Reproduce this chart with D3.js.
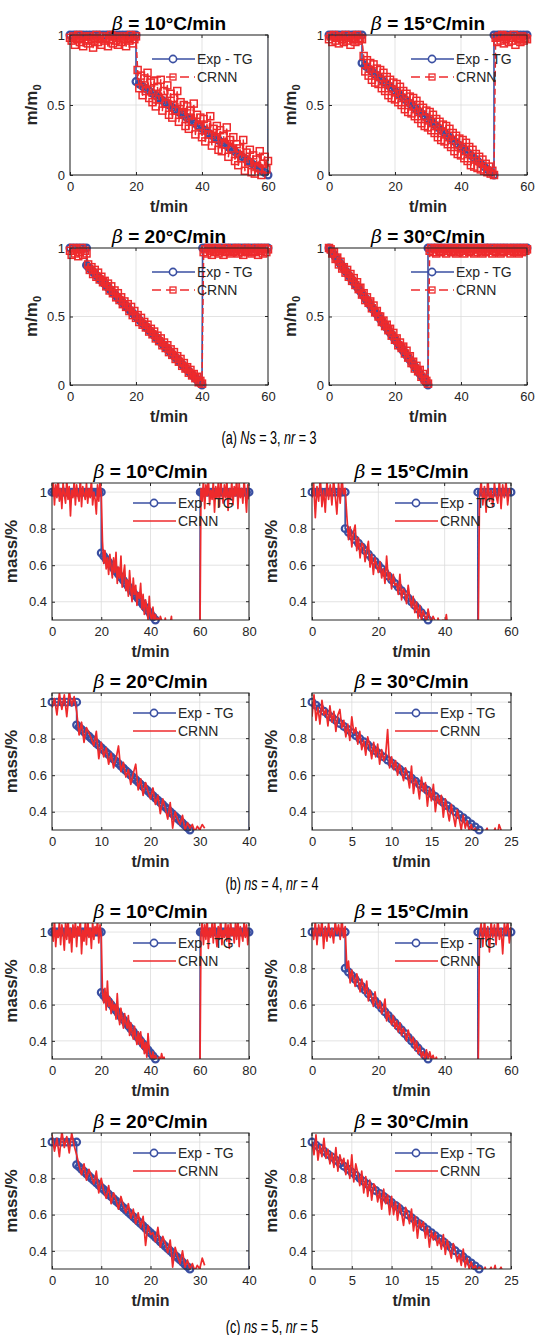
<!DOCTYPE html>
<html>
<head>
<meta charset="utf-8">
<script src="https://cdn.jsdelivr.net/npm/d3@7"></script>
<style>
  html, body { margin: 0; padding: 0; background: #fff; }
  svg { display: block; }
</style>
</head>
<body>
<svg id="chart" width="535" height="1335"></svg>
<script>
// ---------------------------------------------------------------
// Measured TG curves (t in min, normalised mass)
// ---------------------------------------------------------------
const heatingRates = [10, 15, 20, 30];

const expTG10 = [
  [0,1],[1,1],[2,1],[3,1],[4,1],[5,1],[6,1],[7,1],[8,1],[9,1],[10,1],
  [11,1],[12,1],[13,1],[14,1],[15,1],[16,1],[17,1],[18,1],[19,1],[20,1],
  [20,0.667],[21,0.650],[22,0.633],[23,0.617],[24,0.600],[25,0.583],[26,0.567],[27,0.550],[28,0.533],[29,0.517],[30,0.500],
  [31,0.483],[32,0.467],[33,0.450],[34,0.433],[35,0.417],[36,0.400],[37,0.383],[38,0.367],[39,0.350],[40,0.333],
  [41,0.317],[42,0.300],[43,0.283],[44,0.267],[45,0.250],[46,0.233],[47,0.217],[48,0.200],[49,0.183],[50,0.167],
  [51,0.150],[52,0.133],[53,0.117],[54,0.100],[55,0.083],[56,0.067],[57,0.050],[58,0.033],[59,0.017],[60,0],
  [60.2,1],[61,1],[62,1],[63,1],[64,1],[65,1],[66,1],[67,1],[68,1],[69,1],[70,1],
  [71,1],[72,1],[73,1],[74,1],[75,1],[76,1],[77,1],[78,1],[79,1],[80,1]
];

const expTG15 = [
  [0,1],[1,1],[2,1],[3,1],[4,1],[5,1],[6,1],[7,1],[8,1],[9,1],[10,1],
  [10,0.80],[11,0.78],[12,0.76],[13,0.74],[14,0.72],[15,0.70],[16,0.68],[17,0.66],[18,0.64],[19,0.62],[20,0.60],
  [21,0.58],[22,0.56],[23,0.54],[24,0.52],[25,0.50],[26,0.48],[27,0.46],[28,0.44],[29,0.42],[30,0.40],
  [31,0.38],[32,0.36],[33,0.34],[34,0.32],[35,0.30],[36,0.28],[37,0.26],[38,0.24],[39,0.22],[40,0.20],
  [41,0.18],[42,0.16],[43,0.14],[44,0.12],[45,0.10],[46,0.08],[47,0.06],[48,0.04],[49,0.02],[50,0],
  [50,1],[51,1],[52,1],[53,1],[54,1],[55,1],[56,1],[57,1],[58,1],[59,1],[60,1]
];

const expTG20 = [
  [0,1],[1,1],[2,1],[3,1],[4,1],[5,1],
  [5,0.875],[5.5,0.863],[6,0.850],[6.5,0.838],[7,0.825],[7.5,0.813],[8,0.800],[8.5,0.788],[9,0.775],[9.5,0.763],[10,0.750],
  [10.5,0.738],[11,0.725],[11.5,0.713],[12,0.700],[12.5,0.688],[13,0.675],[13.5,0.663],[14,0.650],[14.5,0.638],[15,0.625],
  [15.5,0.613],[16,0.600],[16.5,0.588],[17,0.575],[17.5,0.563],[18,0.550],[18.5,0.538],[19,0.525],[19.5,0.513],[20,0.500],
  [20.5,0.488],[21,0.475],[21.5,0.463],[22,0.450],[22.5,0.438],[23,0.425],[23.5,0.413],[24,0.400],[24.5,0.388],[25,0.375],
  [25.5,0.363],[26,0.350],[26.5,0.338],[27,0.325],[27.5,0.313],[28,0.300],[28.5,0.288],[29,0.275],[29.5,0.263],[30,0.250],
  [30.5,0.238],[31,0.225],[31.5,0.213],[32,0.200],[32.5,0.188],[33,0.175],[33.5,0.163],[34,0.150],[34.5,0.138],[35,0.125],
  [35.5,0.113],[36,0.100],[36.5,0.088],[37,0.075],[37.5,0.063],[38,0.050],[38.5,0.038],[39,0.025],[39.5,0.013],[40,0],
  [40.2,1],[41,1],[42,1],[43,1],[44,1],[45,1],[46,1],[47,1],[48,1],[49,1],[50,1],
  [51,1],[52,1],[53,1],[54,1],[55,1],[56,1],[57,1],[58,1],[59,1],[60,1]
];

const expTG30 = [
  [0,1],[0.5,0.983],[1,0.967],[1.5,0.950],[2,0.933],[2.5,0.917],[3,0.900],[3.5,0.883],[4,0.867],[4.5,0.850],[5,0.833],
  [5.5,0.817],[6,0.800],[6.5,0.783],[7,0.767],[7.5,0.750],[8,0.733],[8.5,0.717],[9,0.700],[9.5,0.683],[10,0.667],
  [10.5,0.650],[11,0.633],[11.5,0.617],[12,0.600],[12.5,0.583],[13,0.567],[13.5,0.550],[14,0.533],[14.5,0.517],[15,0.500],
  [15.5,0.483],[16,0.467],[16.5,0.450],[17,0.433],[17.5,0.417],[18,0.400],[18.5,0.383],[19,0.367],[19.5,0.350],[20,0.333],
  [20.5,0.317],[21,0.300],[21.5,0.283],[22,0.267],[22.5,0.250],[23,0.233],[23.5,0.217],[24,0.200],[24.5,0.183],[25,0.167],
  [25.5,0.150],[26,0.133],[26.5,0.117],[27,0.100],[27.5,0.083],[28,0.067],[28.5,0.050],[29,0.033],[29.5,0.017],[30,0],
  [30,1],[31,1],[32,1],[33,1],[34,1],[35,1],[36,1],[37,1],[38,1],[39,1],[40,1],
  [41,1],[42,1],[43,1],[44,1],[45,1],[46,1],[47,1],[48,1],[49,1],[50,1],
  [51,1],[52,1],[53,1],[54,1],[55,1],[56,1],[57,1],[58,1],[59,1],[60,1]
];

// ---------------------------------------------------------------
// CRNN predictions, sampled from t = 0 at a fixed step (min)
// ---------------------------------------------------------------
// (a) Ns = 3, nr = 3 — step 0.5 min
const crnnA10 = [
  0.98,0.96,0.99,0.93,0.97,1.00,0.95,0.98,0.92,0.99, 0.96,0.94,0.99,0.97,0.91,0.98,1.00,0.95,0.97,0.93,
  0.99,0.96,0.98,0.92,0.97,1.00,0.94,0.99,0.96,0.93, 0.98,0.95,0.99,0.97,0.92,0.98,0.96,1.00,0.94,0.97, 0.99,
  0.75,0.62,0.71,0.57,0.69,0.60,0.73,0.55,0.66,0.52, 0.67,0.49,0.63,0.54,0.68,0.46,0.60,0.51,0.64,0.43,
  0.58,0.41,0.55,0.46,0.60,0.38,0.52,0.44,0.50,0.35, 0.49,0.33,0.46,0.38,0.51,0.29,0.43,0.35,0.41,0.27,
  0.40,0.24,0.36,0.29,0.42,0.21,0.33,0.26,0.35,0.18, 0.32,0.17,0.28,0.22,0.34,0.13,0.25,0.19,0.27,0.10,
  0.22,0.07,0.19,0.12,0.25,0.03,0.16,0.09,0.18,0.02, 0.14,0.01,0.11,0.05,0.17,0.00,0.08,0.13,0.04,0.10
];
const crnnA15 = [
  0.97,0.99,0.95,1.00,0.96,0.98,0.94,0.99,0.97,0.95, 1.00,0.96,0.98,0.93,0.99,0.97,0.95,1.00,0.96,0.98, 0.97,
  0.85,0.74,0.82,0.71,0.80,0.68,0.79,0.66,0.76,0.65, 0.75,0.62,0.73,0.60,0.70,0.57,0.68,0.55,0.66,0.54,
  0.65,0.52,0.63,0.50,0.60,0.47,0.58,0.45,0.56,0.44, 0.55,0.42,0.53,0.40,0.50,0.37,0.48,0.35,0.46,0.34,
  0.45,0.32,0.43,0.30,0.40,0.27,0.38,0.25,0.36,0.24, 0.35,0.22,0.33,0.20,0.30,0.17,0.28,0.15,0.26,0.14,
  0.25,0.12,0.23,0.10,0.20,0.07,0.18,0.06,0.15,0.05, 0.13,0.04,0.11,0.03,0.08,0.02,0.06,0.01,0.03,0.00,
  0.98,0.95,0.99,0.96,1.00,0.94,0.97,0.99,0.95,0.98, 0.96,1.00,0.93,0.98,0.97,0.95,0.99,0.96,0.98,0.97
];
const crnnA20 = [
  0.98,0.95,1.00,0.96,0.99,0.94,0.97,1.00,0.95,0.98, 0.96,
  0.88,0.84,0.86,0.81,0.84,0.79,0.82,0.77,0.79,0.75, 0.76,0.72,0.74,0.69,0.72,0.67,0.69,0.64,0.67,0.62,
  0.64,0.59,0.61,0.57,0.59,0.54,0.57,0.51,0.54,0.49, 0.51,0.46,0.49,0.44,0.46,0.42,0.44,0.39,0.41,0.37,
  0.39,0.34,0.36,0.32,0.34,0.29,0.31,0.27,0.29,0.24, 0.26,0.22,0.24,0.19,0.21,0.17,0.19,0.14,0.16,0.12,
  0.13,0.09,0.11,0.07,0.08,0.05,0.06,0.02,0.03,0.01,
  0.97,0.99,0.96,1.00,0.98,0.95,0.99,0.97,1.00,0.96, 0.98,0.99,0.95,0.97,1.00,0.98,0.96,0.99,0.97,0.98,
  1.00,0.96,0.99,0.97,0.95,0.98,1.00,0.97,0.99,0.96, 0.98,0.97,1.00,0.95,0.99,0.98,0.96,1.00,0.97,0.99
];
const crnnA30 = [
  1.00,0.99,0.96,0.97,0.92,0.93,0.88,0.90,0.85,0.86, 0.82,
  0.84,0.79,0.81,0.76,0.78,0.73,0.75,0.70,0.71,0.66, 0.67,0.62,0.64,0.60,0.61,0.56,0.58,0.53,0.54,0.50,
  0.50,0.46,0.47,0.43,0.44,0.40,0.41,0.36,0.38,0.33, 0.34,0.29,0.31,0.27,0.28,0.23,0.25,0.20,0.21,0.16,
  0.17,0.12,0.14,0.10,0.11,0.06,0.08,0.04,0.03,0.01,
  0.98,1.00,0.97,0.99,0.96,1.00,0.98,0.97,0.99,1.00, 0.96,0.98,0.99,0.97,1.00,0.98,0.96,0.99,0.97,1.00,
  0.98,0.96,0.99,1.00,0.97,0.98,0.99,0.96,1.00,0.97, 0.99,0.98,0.96,1.00,0.97,0.99,0.98,1.00,0.96,0.98,
  0.97,0.99,1.00,0.96,0.98,0.97,0.99,1.00,0.98,0.96, 0.99,0.97,1.00,0.98,0.96,0.99,0.97,1.00,0.98,0.99
];

// (b) ns = 4, nr = 4 — step 0.5 min (10, 15, 20 °C/min), 0.25 min (30 °C/min)
const crnnB10 = [
  0.98,1.06,0.93,1.04,0.97,1.08,0.95,1.02,0.91,1.05, 0.99,0.94,1.07,0.96,1.03,0.87,1.01,0.97,1.06,0.93,
  1.04,0.98,0.95,1.08,0.92,1.03,0.99,0.96,1.05,0.94, 1.02,0.97,1.07,0.93,1.00,0.96,0.88,1.04,0.95,1.06, 0.99,
  0.73,0.61,0.68,0.58,0.64,0.55,0.66,0.59,0.53,0.64, 0.56,0.67,0.50,0.59,0.53,0.65,0.48,0.55,0.60,0.46,
  0.52,0.43,0.57,0.47,0.40,0.53,0.44,0.49,0.38,0.45, 0.42,0.50,0.36,0.44,0.33,0.41,0.37,0.30,0.43,0.32,
  0.30,0.37,0.29,0.33,0.28,0.31,0.29,0.32,0.30,0.28, 0.27,0.31,0.26,0.29,0.24,0.28,0.32,0.22,0.18,0.21,
  0.16,0.19,0.13,0.15,0.11,0.14,0.09,0.12,0.08,0.10, 0.06,0.09,0.05,0.07,0.04,0.06,0.03,0.05,0.02,0.03,
  1.02,0.95,1.07,0.91,1.04,0.98,1.08,0.93,1.01,0.96, 1.06,0.89,1.03,0.97,1.05,0.92,1.08,0.99,0.94,1.04,
  0.97,1.07,0.90,1.02,0.96,1.06,0.93,1.03,0.98,1.08, 0.91,1.05,0.97,1.02,0.94,1.07,0.99,0.89,1.04,0.96
];
const crnnB15 = [
  0.97,1.05,0.86,1.03,0.95,1.08,0.92,1.01,0.89,1.06, 0.96,1.04,0.93,1.07,0.98,0.88,1.05,0.94,1.08,0.99, 1.02,
  0.87,0.74,0.81,0.70,0.78,0.82,0.68,0.75,0.64,0.72, 0.71,0.62,0.68,0.73,0.59,0.66,0.55,0.64,0.60,0.56,
  0.62,0.53,0.58,0.50,0.65,0.52,0.56,0.47,0.55,0.49, 0.50,0.44,0.55,0.41,0.47,0.45,0.39,0.49,0.42,0.37,
  0.43,0.34,0.40,0.31,0.38,0.30,0.35,0.32,0.29,0.36, 0.31,0.29,0.32,0.30,0.27,0.31,0.28,0.26,0.30,0.27,
  0.33,0.25,0.22,0.24,0.20,0.18,0.21,0.16,0.14,0.12, 0.13,0.10,0.11,0.08,0.09,0.06,0.07,0.04,0.05,0.02,
  0.97,1.06,0.93,1.03,0.89,1.08,0.95,1.01,0.92,1.05, 0.98,0.94,1.07,0.91,1.04,0.97,1.06,0.93,1.02,0.99
];
const crnnB20 = [
  0.97,1.02,0.93,1.05,0.96,1.04,0.92,1.06,0.98,1.03, 0.95,
  0.82,0.89,0.78,0.86,0.83,0.80,0.76,0.84,0.69,0.78, 0.70,0.75,0.66,0.72,0.64,0.69,0.76,0.62,0.67,0.59,
  0.63,0.55,0.61,0.66,0.52,0.58,0.49,0.56,0.51,0.47, 0.53,0.44,0.49,0.39,0.47,0.42,0.36,0.45,0.31,0.40,
  0.36,0.33,0.38,0.30,0.34,0.31,0.33,0.29,0.32,0.30, 0.33,0.31
];
const crnnB30 = [
  0.92,1.04,0.90,0.97,0.88,1.01,0.93,0.96, 0.87,0.98,0.89,0.95,0.84,0.93,0.96,0.86,
  0.90,0.81,0.88,0.79,0.92,0.83,0.86,0.77, 0.84,0.74,0.79,0.71,0.81,0.76,0.69,0.78,
  0.70,0.77,0.66,0.74,0.68,0.71,0.85,0.64, 0.70,0.63,0.68,0.60,0.66,0.62,0.57,0.64,
  0.60,0.53,0.65,0.50,0.58,0.55,0.47,0.59, 0.51,0.56,0.43,0.53,0.46,0.55,0.40,0.49,
  0.44,0.49,0.37,0.47,0.41,0.35,0.44,0.38, 0.32,0.41,0.36,0.30,0.38,0.31,0.35,0.29,
  0.33,0.29,0.31,0.28,0.30,0.27,0.25,0.29, 0.31,0.26,0.24,0.28,0.31,0.26,0.33,0.30, 0.27
];

// (c) ns = 5, nr = 5 — same sampling as (b)
const crnnC10 = [
  1.03,0.95,1.07,0.92,1.01,0.97,1.06,0.93,1.04,0.99, 0.90,1.05,0.96,1.08,0.94,1.02,0.89,1.04,0.97,1.06,
  0.92,1.03,0.98,1.07,0.88,1.01,0.95,1.05,0.93,1.08, 0.97,1.02,0.91,1.06,0.96,1.03,0.99,1.07,0.94,1.04, 0.98,
  0.67,0.61,0.69,0.57,0.73,0.59,0.64,0.55,0.62,0.57, 0.60,0.52,0.66,0.54,0.49,0.58,0.52,0.47,0.55,0.50,
  0.47,0.54,0.43,0.50,0.45,0.41,0.48,0.42,0.38,0.45, 0.38,0.45,0.36,0.41,0.33,0.39,0.31,0.44,0.35,0.32,
  0.30,0.34,0.29,0.32,0.30,0.28,0.31,0.29,0.33,0.30, 0.31,0.27,0.24,0.22,0.25,0.20,0.18,0.21,0.17,0.15,
  0.14,0.12,0.15,0.11,0.13,0.10,0.12,0.09,0.11,0.08, 0.10,0.07,0.09,0.06,0.08,0.05,0.07,0.04,0.06,0.05,
  0.99,1.06,0.93,1.04,0.96,1.08,0.91,1.02,0.97,1.05, 0.94,1.07,0.98,0.92,1.03,0.96,1.08,0.93,1.01,0.97,
  1.06,0.95,1.04,0.91,1.07,0.98,1.02,0.94,1.05,0.96, 1.08,0.92,1.03,0.99,0.95,1.06,0.97,1.04,0.93,1.02
];
const crnnC15 = [
  1.02,0.96,1.06,0.93,1.04,0.98,1.07,0.91,1.03,0.95, 1.05,0.97,1.02,0.94,1.06,0.99,1.04,0.96,1.08,0.97, 1.03,
  0.80,0.84,0.72,0.79,0.75,0.70,0.77,0.73,0.67,0.74, 0.70,0.66,0.73,0.62,0.68,0.64,0.59,0.67,0.61,0.58,
  0.62,0.55,0.58,0.63,0.51,0.56,0.52,0.49,0.54,0.47, 0.51,0.45,0.50,0.43,0.47,0.44,0.40,0.46,0.42,0.39,
  0.42,0.35,0.40,0.33,0.37,0.31,0.34,0.30,0.35,0.29, 0.34,0.30,0.32,0.29,0.31,0.27,0.25,0.30,0.22,0.20,
  0.18,0.19,0.16,0.17,0.14,0.15,0.12,0.13,0.11,0.10, 0.09,0.10,0.08,0.07,0.06,0.07,0.05,0.04,0.05,0.03,
  0.98,1.05,0.92,1.07,0.95,1.03,0.89,1.06,0.97,1.04, 0.93,1.08,0.96,1.02,0.88,1.05,0.99,1.07,0.94,1.03
];
const crnnC20 = [
  1.04,0.95,1.02,0.92,1.06,0.97,1.03,0.94,1.05,0.98, 0.93,
  0.87,0.82,0.88,0.79,0.85,0.81,0.77,0.84,0.72,0.80, 0.73,0.69,0.76,0.66,0.72,0.68,0.63,0.70,0.65,0.61,
  0.66,0.58,0.63,0.55,0.61,0.53,0.59,0.43,0.54,0.49, 0.50,0.45,0.53,0.42,0.48,0.44,0.39,0.46,0.31,0.42,
  0.37,0.33,0.40,0.31,0.35,0.30,0.33,0.29,0.32,0.30, 0.36,0.32
];
const crnnC30 = [
  1.00,0.93,1.04,0.90,0.98,0.92,1.02,0.91, 0.96,0.88,0.94,0.86,0.97,0.84,0.93,0.88,
  0.91,0.82,0.90,0.80,0.93,0.78,0.88,0.83, 0.76,0.84,0.72,0.81,0.70,0.79,0.68,0.77,
  0.75,0.67,0.73,0.63,0.74,0.66,0.71,0.60, 0.70,0.60,0.67,0.57,0.66,0.61,0.54,0.64,
  0.61,0.55,0.63,0.51,0.59,0.47,0.57,0.53, 0.56,0.47,0.53,0.42,0.51,0.46,0.50,0.43,
  0.47,0.41,0.49,0.38,0.46,0.41,0.36,0.44, 0.40,0.34,0.38,0.32,0.41,0.31,0.36,0.30,
  0.34,0.30,0.32,0.29,0.31,0.30,0.28,0.31, 0.27,0.29,0.31,0.28,0.32,0.26,0.29,0.31, 0.28
];

// Axis ticks
const xTicks60 = [0, 20, 40, 60];
const xTicks80 = [0, 20, 40, 60, 80];
const xTicks40 = [0, 10, 20, 30, 40];
const xTicks25 = [0, 5, 10, 15, 20, 25];
const yTicksA = [0, 0.5, 1];
const yTicksB = [0.4, 0.6, 0.8, 1];

const captions = [
  { tag: '(a) ', a: 'Ns', b: ' = 3, ', c: 'nr', d: ' = 3' },
  { tag: '(b) ', a: 'ns', b: ' = 4, ', c: 'nr', d: ' = 4' },
  { tag: '(c) ', a: 'ns', b: ' = 5, ', c: 'nr', d: ' = 5' }
];

// ---------------------------------------------------------------
// Layout and styling
// ---------------------------------------------------------------
const FONT = '"Liberation Sans", Arial, Helvetica, sans-serif';
const BLUE = '#3a4fa2';
const RED = '#ee2a2c';
const INK = '#262626';
const GRID = '#dcdcdc';

const boxes = {
  a: [{x:70,y:35,w:198,h:140},{x:329,y:35,w:198,h:140},{x:70,y:248,w:198,h:137},{x:329,y:248,w:198,h:137}],
  b: [{x:52,y:483,w:197,h:137},{x:312,y:483,w:199,h:137},{x:52,y:693,w:197,h:137},{x:312,y:693,w:199,h:137}],
  c: [{x:52,y:923,w:197,h:136},{x:312,y:923,w:199,h:136},{x:52,y:1133,w:197,h:136},{x:312,y:1133,w:199,h:136}]
};
const captionY = [444, 890, 1333];
const captionX = [269, 272, 272];

const expSets = [expTG10, expTG15, expTG20, expTG30];
const groups = [
  { key:'a', crnn:[crnnA10,crnnA15,crnnA20,crnnA30], steps:[0.5,0.5,0.5,0.5],
    xMax:[60,60,60,60], xTicks:[xTicks60,xTicks60,xTicks60,xTicks60],
    yDom:[0,1], yTicks:yTicksA, yLabel:'mm0', markers:true, legendDy:[24,42], yLabelOff:33 },
  { key:'b', crnn:[crnnB10,crnnB15,crnnB20,crnnB30], steps:[0.5,0.5,0.5,0.25],
    xMax:[80,60,40,25], xTicks:[xTicks80,xTicks60,xTicks40,xTicks25],
    yDom:[0.3,1.05], yTicks:yTicksB, yLabel:'mass/%', markers:false, legendDy:[20,38], yLabelOff:35 },
  { key:'c', crnn:[crnnC10,crnnC15,crnnC20,crnnC30], steps:[0.5,0.5,0.5,0.25],
    xMax:[80,60,40,25], xTicks:[xTicks80,xTicks60,xTicks40,xTicks25],
    yDom:[0.3,1.05], yTicks:yTicksB, yLabel:'mass/%', markers:false, legendDy:[20,38], yLabelOff:35 }
];

const svg = d3.select('#chart');
svg.append('rect').attr('width', 535).attr('height', 1335).attr('fill', '#fff');

let clipCount = 0;

groups.forEach((grp, gi) => {
  heatingRates.forEach((rate, k) => {
    const box = boxes[grp.key][k];
    const g = svg.append('g').attr('transform', `translate(${box.x},${box.y})`);
    const x = d3.scaleLinear().domain([0, grp.xMax[k]]).range([0, box.w]);
    const y = d3.scaleLinear().domain(grp.yDom).range([box.h, 0]);

    const clipId = 'clip' + (clipCount++);
    g.append('clipPath').attr('id', clipId)
      .append('rect').attr('width', box.w).attr('height', box.h);

    // grid
    const grid = g.append('g').attr('stroke', GRID).attr('stroke-width', 0.8);
    grid.selectAll('line.gx').data(grp.xTicks[k]).join('line')
      .attr('x1', d => x(d)).attr('x2', d => x(d)).attr('y1', 0).attr('y2', box.h);
    grid.selectAll('line.gy').data(grp.yTicks).join('line')
      .attr('y1', d => y(d)).attr('y2', d => y(d)).attr('x1', 0).attr('x2', box.w);

    // axes (ticks inward)
    const xAxis = d3.axisBottom(x).tickValues(grp.xTicks[k]).tickSize(-3).tickPadding(7)
      .tickFormat(d3.format('d'));
    const yAxis = d3.axisLeft(y).tickValues(grp.yTicks).tickSize(-3).tickPadding(5)
      .tickFormat(d => String(d));
    const xa = g.append('g').attr('transform', `translate(0,${box.h})`).call(xAxis);
    const ya = g.append('g').call(yAxis);
    [xa, ya].forEach(a => {
      a.select('.domain').remove();
      a.selectAll('line').attr('stroke', INK);
      a.selectAll('text').attr('fill', INK).style('font-family', FONT).style('font-size', '13px');
    });
    // ticks on the top and right edges
    g.append('g').selectAll('line').data(grp.xTicks[k]).join('line')
      .attr('x1', d => x(d)).attr('x2', d => x(d)).attr('y1', 0).attr('y2', 3).attr('stroke', INK);
    g.append('g').selectAll('line').data(grp.yTicks).join('line')
      .attr('y1', d => y(d)).attr('y2', d => y(d)).attr('x1', box.w).attr('x2', box.w - 3).attr('stroke', INK);

    const line = d3.line().x(d => x(d[0])).y(d => y(d[1]));
    const inside = d => d[0] >= -1e-9 && d[0] <= grp.xMax[k] + 1e-9 &&
                        d[1] >= grp.yDom[0] - 1e-9 && d[1] <= grp.yDom[1] + 1e-9;

    // Exp - TG
    const exp = expSets[k];
    g.append('path').datum(exp).attr('d', line).attr('clip-path', `url(#${clipId})`)
      .attr('fill', 'none').attr('stroke', BLUE).attr('stroke-width', 1.6);
    g.append('g').selectAll('circle').data(exp.filter(inside)).join('circle')
      .attr('cx', d => x(d[0])).attr('cy', d => y(d[1])).attr('r', 3.4)
      .attr('fill', 'none').attr('stroke', BLUE).attr('stroke-width', 2.2);

    // CRNN
    const step = grp.steps[k];
    const pred = grp.crnn[k].map((m, i) => [i * step, m]);
    g.append('path').datum(pred).attr('d', line).attr('clip-path', `url(#${clipId})`)
      .attr('fill', 'none').attr('stroke', RED).attr('stroke-width', grp.markers ? 1.5 : 1.7)
      .attr('stroke-dasharray', grp.markers ? '6,3' : null).attr('stroke-linejoin', 'round');
    if (grp.markers) {
      g.append('g').selectAll('rect').data(pred.filter(inside)).join('rect')
        .attr('x', d => x(d[0]) - 3.5).attr('y', d => y(d[1]) - 3.5)
        .attr('width', 7).attr('height', 7)
        .attr('fill', 'none').attr('stroke', RED).attr('stroke-width', 1.5);
    }

    // frame
    g.append('rect').attr('width', box.w).attr('height', box.h)
      .attr('fill', 'none').attr('stroke', INK).attr('stroke-width', 1);

    // title
    const title = g.append('text').attr('x', box.w / 2).attr('y', -5)
      .attr('text-anchor', 'middle').attr('fill', '#000')
      .style('font-family', FONT).style('font-size', '19px');
    title.append('tspan').text('β').style('font-style', 'italic').style('font-family', '"DejaVu Serif", serif');
    title.append('tspan').text(` = ${rate}°C/min`).style('font-weight', 'bold');

    // x label
    g.append('text').attr('x', box.w / 2).attr('y', box.h + 37).attr('text-anchor', 'middle')
      .attr('fill', INK).style('font-family', FONT).style('font-size', '16px').style('font-weight', 'bold')
      .text('t/min');

    // y label
    const yl = g.append('text')
      .attr('transform', `translate(${-grp.yLabelOff},${box.h / 2}) rotate(-90)`)
      .attr('text-anchor', 'middle').attr('fill', INK)
      .style('font-family', FONT).style('font-size', '17px').style('font-weight', 'bold');
    if (grp.yLabel === 'mm0') {
      yl.append('tspan').text('m/m');
      yl.append('tspan').text('0').attr('dy', 4).style('font-size', '11px');
    } else {
      yl.text(grp.yLabel);
    }

    // legend
    const lx0 = box.w - 116, lx1 = box.w - 73, lxm = box.w - 95, ltx = box.w - 71;
    const r1 = grp.legendDy[0], r2 = grp.legendDy[1];
    const leg = g.append('g');
    leg.append('line').attr('x1', lx0).attr('x2', lx1).attr('y1', r1).attr('y2', r1)
      .attr('stroke', BLUE).attr('stroke-width', 1.6);
    leg.append('circle').attr('cx', lxm).attr('cy', r1).attr('r', 3.6)
      .attr('fill', '#fff').attr('stroke', BLUE).attr('stroke-width', 1.6);
    leg.append('line').attr('x1', lx0).attr('x2', lx1).attr('y1', r2).attr('y2', r2)
      .attr('stroke', RED).attr('stroke-width', 1.6)
      .attr('stroke-dasharray', grp.markers ? '9,5' : null);
    if (grp.markers) {
      leg.append('rect').attr('x', lxm - 3).attr('y', r2 - 3).attr('width', 6).attr('height', 6)
        .attr('fill', 'none').attr('stroke', RED).attr('stroke-width', 1.3);
    }
    leg.selectAll('text').data(['Exp - TG', 'CRNN']).join('text')
      .attr('x', ltx).attr('y', (d, i) => i === 0 ? r1 : r2).attr('dy', '0.35em')
      .attr('fill', INK).style('font-family', FONT).style('font-size', '14px')
      .text(d => d);
  });

  // group caption, set in a condensed face
  const c = captions[gi];
  const cap = svg.append('g')
    .attr('transform', `translate(${captionX[gi]},${captionY[gi]}) scale(0.7,1)`)
    .append('text').attr('text-anchor', 'middle').attr('fill', '#000')
    .style('font-family', FONT).style('font-size', '18px');
  cap.append('tspan').text(c.tag);
  cap.append('tspan').text(c.a).style('font-style', 'italic');
  cap.append('tspan').text(c.b);
  cap.append('tspan').text(c.c).style('font-style', 'italic');
  cap.append('tspan').text(c.d);
});
</script>
</body>
</html>
